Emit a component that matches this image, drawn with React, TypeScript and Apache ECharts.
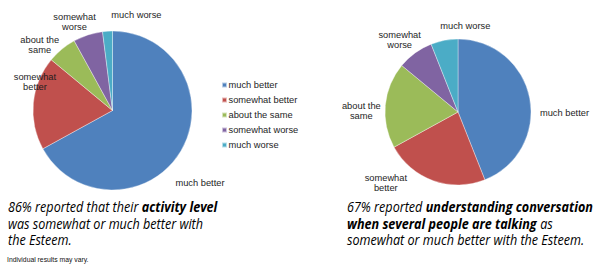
import React, { useEffect, useRef } from "react";
import * as echarts from "echarts";

// Answer categories shared by both pies
const categories = [
  "much better",
  "somewhat better",
  "about the same",
  "somewhat worse",
  "much worse",
];

// Two-line slice captions
const sliceLabels = [
  "much better",
  "somewhat\nbetter",
  "about the\nsame",
  "somewhat\nworse",
  "much worse",
];

// Share of respondents (%)
const activityLevel = [67, 19, 6, 6, 2];
const groupConversation = [44, 23, 19, 8, 6];

const palette = ["#4F81BD", "#C0504D", "#9BBB59", "#8064A2", "#4BACC6"];

const FONT = "'Liberation Sans', Arial, sans-serif";
const CAPTION_FONT = "'Open Sans', 'Noto Sans', sans-serif";

// pie geometry (px)
const leftPie = { cx: 112.5, cy: 110.5, r: 79.5 };
const rightPie = { cx: 458, cy: 112, r: 73 };
const LABEL_RADIUS = 1.22;

// per-slice label nudges from the mid-angle anchor
const leftNudge = [
  [4, 23],
  [19, -19],
  [-11, 9],
  [-8, 4],
  [30, 1],
];
const rightNudge = [
  [19, 18],
  [-42, -13],
  [-8, 7],
  [-6, 0],
  [24, 1],
];

function makeLabelLayout(
  values: number[],
  pie: { cx: number; cy: number; r: number },
  nudge: number[][]
) {
  const total = values.reduce((a, b) => a + b, 0);
  return (params: any) => {
    const i = params.dataIndex;
    let before = 0;
    for (let k = 0; k < i; k++) before += values[k];
    const mid = ((before + values[i] / 2) / total) * Math.PI * 2;
    const R = pie.r * LABEL_RADIUS;
    return {
      x: pie.cx + R * Math.sin(mid) + nudge[i][0],
      y: pie.cy - R * Math.cos(mid) + nudge[i][1],
      align: "center",
      verticalAlign: "middle",
    };
  };
}

function pieSeries(
  values: number[],
  pie: { cx: number; cy: number; r: number },
  nudge: number[][]
) {
  return {
    type: "pie",
    center: [pie.cx, pie.cy],
    radius: pie.r,
    startAngle: 90,
    clockwise: true,
    silent: true,
    avoidLabelOverlap: false,
    itemStyle: { borderColor: "rgba(255,255,255,0.6)", borderWidth: 0.6 },
    label: {
      show: true,
      position: "outside",
      alignTo: "none",
      overflow: "none",
      width: 80,
      fontFamily: FONT,
      fontSize: 9.3,
      lineHeight: 10,
      color: "#1e1e1e",
      align: "center",
      formatter: (p: any) => sliceLabels[p.dataIndex],
    },
    labelLine: { show: false },
    labelLayout: makeLabelLayout(values, pie, nudge),
    data: categories.map((name, i) => ({ name, value: values[i] })),
  };
}

// italic caption lines, with the emphasised phrase in bold
const captionRich = {
  i: {
    fontFamily: CAPTION_FONT,
    fontStyle: "italic",
    fontSize: 14,
    lineHeight: 16.2,
    color: "#111",
  },
  b: {
    fontFamily: CAPTION_FONT,
    fontStyle: "italic",
    fontWeight: "bold",
    fontSize: 14,
    lineHeight: 16.2,
    color: "#111",
  },
};

export default function App() {
  const ref = useRef<HTMLDivElement>(null);

  useEffect(() => {
    if (!ref.current) return;
    const chart = echarts.init(ref.current, undefined, { renderer: "svg" });
    chart.setOption({
      animation: false,
      backgroundColor: "#fff",
      color: palette,
      legend: {
        orient: "vertical",
        left: 216,
        top: 75,
        itemWidth: 5,
        itemHeight: 5,
        itemGap: 5,
        icon: "rect",
        selectedMode: false,
        data: categories,
        textStyle: {
          fontFamily: FONT,
          fontSize: 9.3,
          lineHeight: 10,
          color: "#1e1e1e",
          padding: [0, 0, 0, -3.5],
        },
      },
      series: [
        pieSeries(activityLevel, leftPie, leftNudge),
        pieSeries(groupConversation, rightPie, rightNudge),
      ],
      graphic: [
        {
          type: "text",
          x: 8,
          y: 199,
          scaleX: 0.9,
          style: {
            text:
              "{i|86% reported that their }{b|activity level}\n" +
              "{i|was somewhat or much better with}\n" +
              "{i|the Esteem.}",
            rich: captionRich,
            verticalAlign: "top",
          },
        },
        {
          type: "text",
          x: 347,
          y: 199,
          scaleX: 0.9,
          style: {
            text:
              "{i|67% reported }{b|understanding conversation}\n" +
              "{b|when several people are talking}{i| as}\n" +
              "{i|somewhat or much better with the Esteem.}",
            rich: captionRich,
            verticalAlign: "top",
          },
        },
        {
          type: "text",
          x: 7,
          y: 256,
          style: {
            text: "Individual results may vary.",
            fontFamily: FONT,
            fontSize: 6.8,
            fill: "#111",
            verticalAlign: "top",
          },
        },
      ],
    });
    return () => chart.dispose();
  }, []);

  return (
    <div
      ref={ref}
      style={{ position: "absolute", left: 0, top: 0, width: 600, height: 269 }}
    />
  );
}
